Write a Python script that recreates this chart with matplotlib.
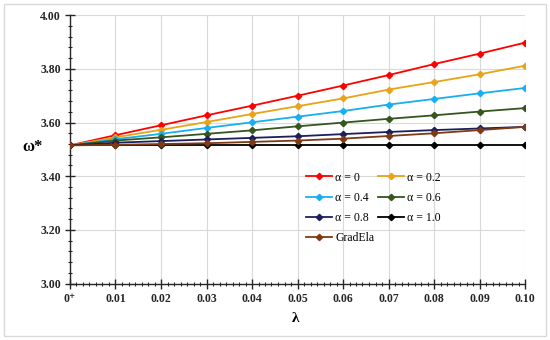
import matplotlib
matplotlib.use("Agg")
import matplotlib.pyplot as plt
from matplotlib.ticker import MultipleLocator, AutoMinorLocator, FixedLocator, FixedFormatter
from matplotlib.patches import Rectangle

lam = [0.0, 0.01, 0.02, 0.03, 0.04, 0.05, 0.06, 0.07, 0.08, 0.09, 0.10]
x_labels = ["0⁺", "0.01", "0.02", "0.03", "0.04", "0.05", "0.06", "0.07", "0.08", "0.09", "0.10"]

a0 = [3.515, 3.553, 3.590, 3.627, 3.663, 3.700, 3.738, 3.777, 3.818, 3.857, 3.898]
a02 = [3.515, 3.545, 3.573, 3.602, 3.632, 3.661, 3.690, 3.723, 3.751, 3.780, 3.812]
a04 = [3.515, 3.538, 3.558, 3.580, 3.601, 3.622, 3.643, 3.667, 3.688, 3.709, 3.729]
a06 = [3.515, 3.533, 3.545, 3.558, 3.571, 3.586, 3.600, 3.614, 3.627, 3.641, 3.654]
a08 = [3.515, 3.525, 3.531, 3.537, 3.543, 3.549, 3.557, 3.565, 3.572, 3.578, 3.584]
a10 = [3.515, 3.515, 3.515, 3.515, 3.515, 3.515, 3.515, 3.515, 3.515, 3.515, 3.515]
gradela = [3.515, 3.517, 3.520, 3.523, 3.528, 3.533, 3.540, 3.550, 3.560, 3.572, 3.584]

series = [
    ("α = 0", a0, "#FF0000"),
    ("α = 0.2", a02, "#E8A317"),
    ("α = 0.4", a04, "#19AEEF"),
    ("α = 0.6", a06, "#35561F"),
    ("α = 0.8", a08, "#1C1F5C"),
    ("α = 1.0", a10, "#000000"),
    ("GradEla", gradela, "#7F3A14"),
]

serif = ["Liberation Serif", "DejaVu Serif"]

fig = plt.figure(figsize=(5.5, 3.4), dpi=100)
ax = fig.add_axes([70/550, 1-283.5/340, (525-70)/550, (283.5-15.3)/340])

handles = []
for name, vals, col in series:
    h, = ax.plot(lam, vals, color=col, lw=1.3, marker="D", ms=3.2, mfc=col, mec=col, label=name, zorder=3)
    handles.append(h)

ax.set_xlim(0, 0.10)
ax.set_ylim(3.0, 4.0)
ax.xaxis.set_major_locator(FixedLocator(lam))
ax.xaxis.set_major_formatter(FixedFormatter(x_labels))
ax.xaxis.set_minor_locator(AutoMinorLocator(7))
ax.yaxis.set_major_locator(MultipleLocator(0.2))
ax.yaxis.set_minor_locator(MultipleLocator(0.04))
ax.yaxis.set_major_formatter(matplotlib.ticker.FormatStrFormatter("%.2f"))

ax.grid(True, which="major", color="#D9D9D9", lw=0.8, zorder=0)
for s in ["top", "right"]:
    ax.spines[s].set_visible(False)
for s in ["left", "bottom"]:
    ax.spines[s].set_color("#262626")
    ax.spines[s].set_linewidth(1.0)

ax.tick_params(which="major", direction="inout", length=7, width=1.0, color="#262626", pad=3)
ax.tick_params(which="minor", direction="inout", length=3.5, width=0.8, color="#262626")
for lab in ax.get_xticklabels() + ax.get_yticklabels():
    lab.set_fontfamily(serif)
    lab.set_fontweight("bold")
    lab.set_fontsize(8.5)
    lab.set_color("#262626")

fig.text(33/550, 1-147/340, "ω*", fontsize=12, fontweight="bold", family=serif, ha="center", va="center")
fig.text(296/550, 1-318/340, "λ", fontsize=11, fontweight="bold", family=serif, ha="center", va="center")

order = [0, 2, 4, 6, 1, 3, 5]
leg = ax.legend([handles[i] for i in order], [series[i][0] for i in order],
                loc="upper left", bbox_to_anchor=(295/550, 1-161/340), bbox_transform=fig.transFigure,
                ncol=2, frameon=False, prop={"family": serif, "size": 8.5},
                handlelength=2.2, handletextpad=0.3, columnspacing=0.3, labelspacing=0.7)

fig.patches.append(Rectangle((4/550, 4/340), 542/550, 332/340, transform=fig.transFigure,
                             fill=False, edgecolor="#D9D9D9", lw=1.0))

fig.savefig("out.png", dpi=100)
